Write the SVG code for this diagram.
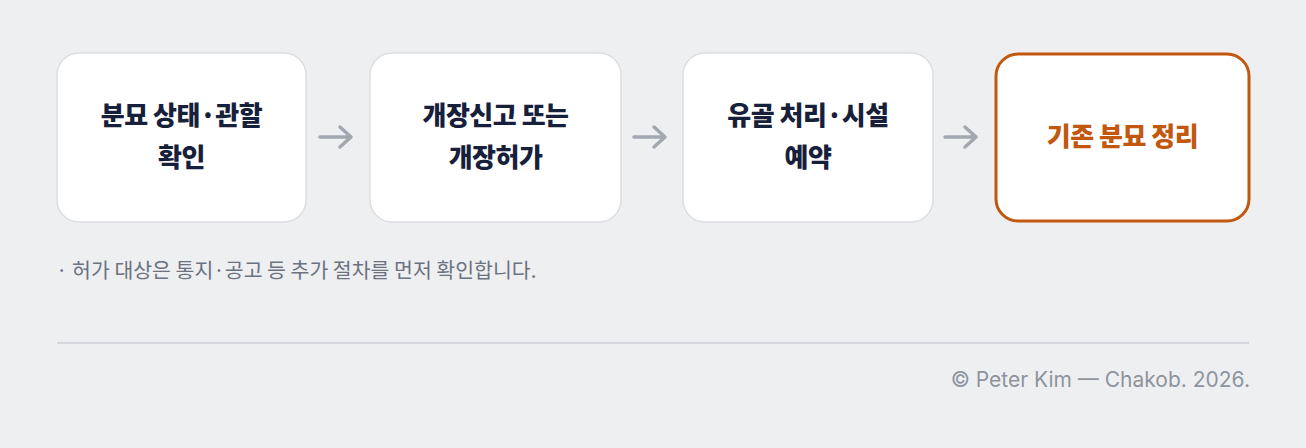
<svg xmlns="http://www.w3.org/2000/svg" width="1306" height="448" viewBox="0 0 1306 448">
<style>
.box{fill:#fff;stroke:#dcdee2;stroke-width:1.5}
.hl{fill:#fff;stroke:#c2580f;stroke-width:3}
.t{font-family:"Noto Sans CJK KR","Noto Sans",sans-serif;font-size:26px;font-weight:800;fill:#17203a;text-anchor:middle;letter-spacing:-0.5px}
.th{fill:#c2580f}
.arr{fill:none;stroke:#a3a8b0;stroke-width:3.5;stroke-linecap:round;stroke-linejoin:round}
.note{font-family:"Noto Sans CJK KR","Noto Sans",sans-serif;font-size:20.5px;fill:#6b7280}
.foot{font-family:Inter,"Noto Sans",sans-serif;font-size:21px;fill:#8e949e;text-anchor:end}
</style>
<rect width="1306" height="448" fill="#eeeff1"/>
<g id="n1"><rect class="box" x="57" y="53" width="249" height="169" rx="22"/><text class="t" x="181.5" y="125">분묘 상태·관할</text><text class="t" x="181.5" y="167">확인</text></g>
<g id="n2"><rect class="box" x="370" y="53" width="251" height="169" rx="22"/><text class="t" x="495.5" y="125">개장신고 또는</text><text class="t" x="495.5" y="167">개장허가</text></g>
<g id="n3"><rect class="box" x="683" y="53" width="250" height="169" rx="22"/><text class="t" x="808" y="125">유골 처리·시설</text><text class="t" x="808" y="167">예약</text></g>
<g id="n4"><rect class="hl" x="996" y="54" width="253" height="167" rx="22"/><text class="t th" x="1122.5" y="146">기존 분묘 정리</text></g>
<g id="connectors">
<path class="arr" d="M320 137H350M340 127L351 137L340 147"/>
<path class="arr" d="M634 137H664M654 127L665 137L654 147"/>
<path class="arr" d="M945 137H975M965 127L976 137L965 147"/>
</g>
<text class="note" x="56" y="278">·  허가 대상은 통지·공고 등 추가 절차를 먼저 확인합니다.</text>
<line x1="57" y1="343" x2="1249" y2="343" stroke="#d5d8dc" stroke-width="2"/>
<text class="foot" x="1250" y="387">© Peter Kim — Chakob. 2026.</text>
</svg>
